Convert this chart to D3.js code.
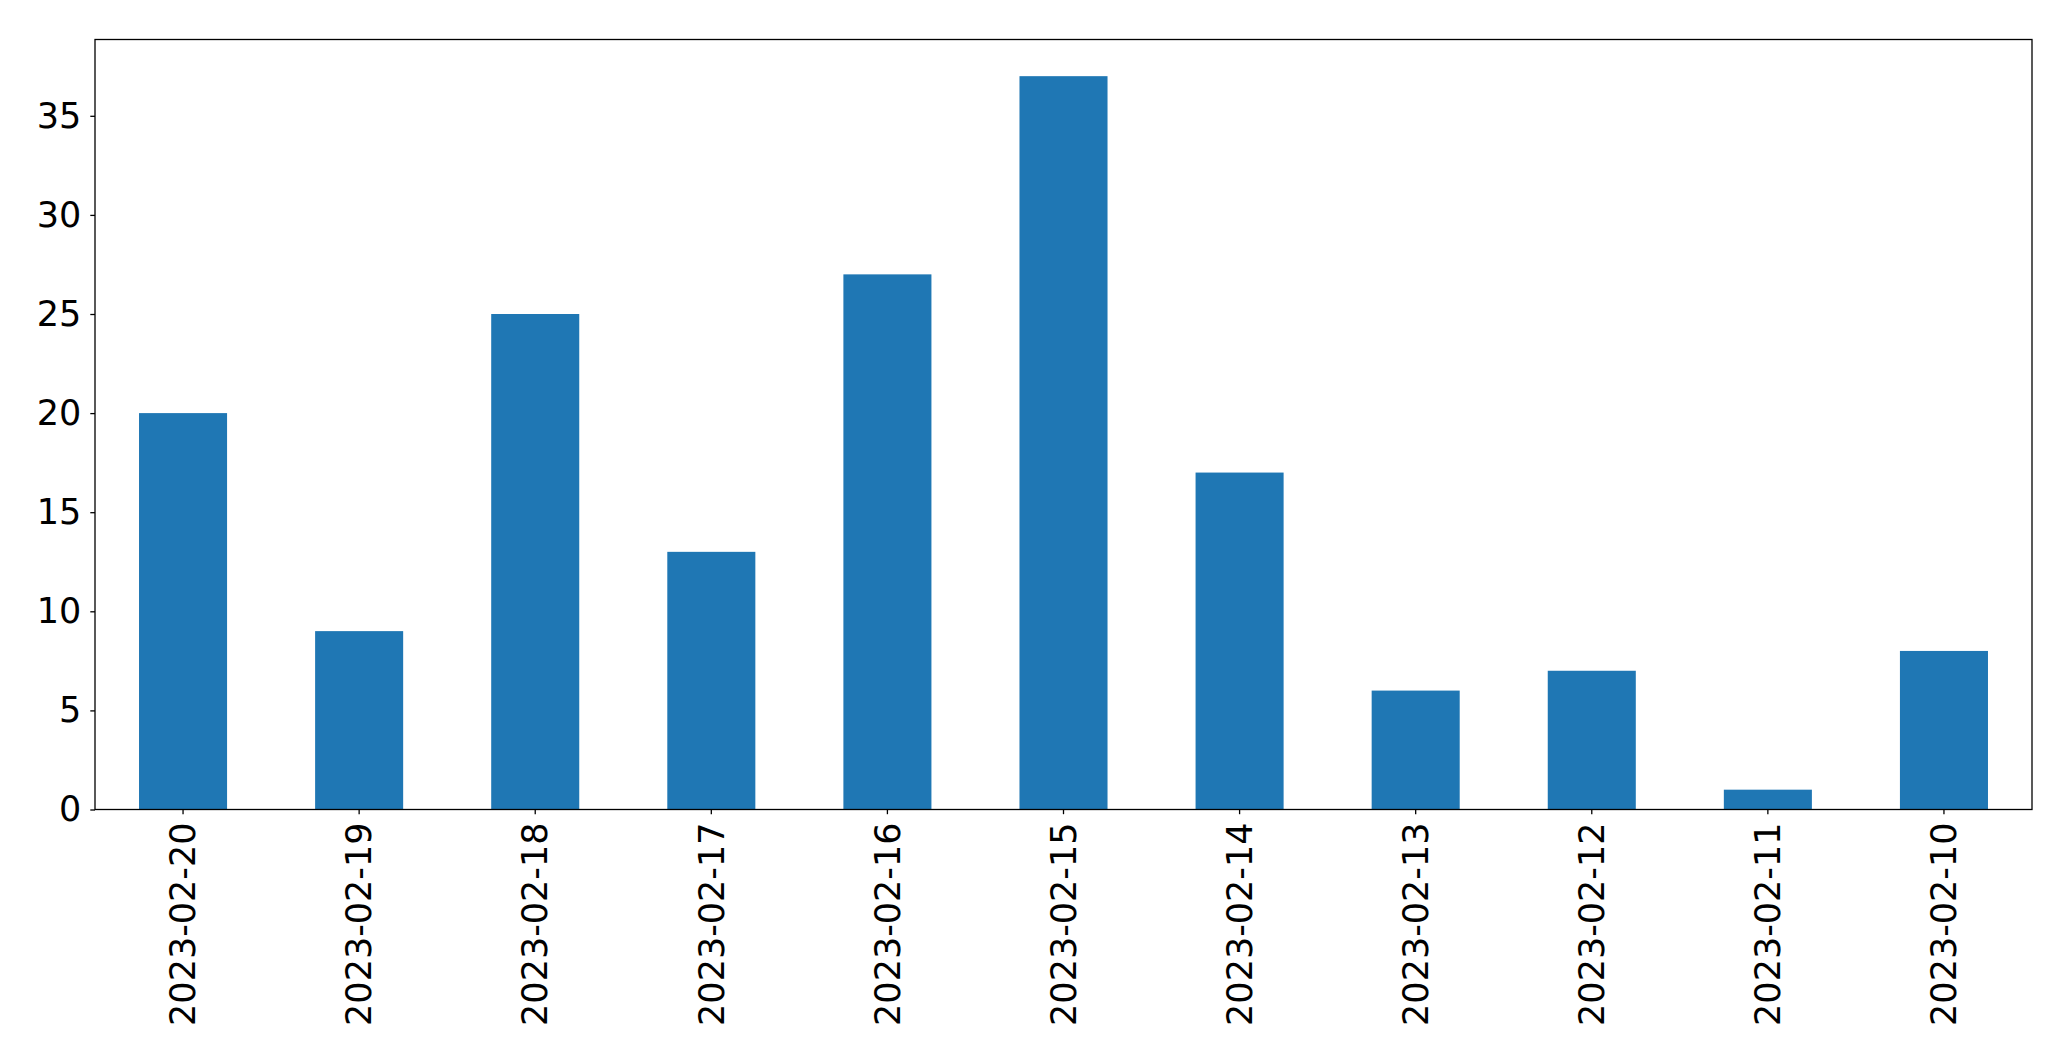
<!DOCTYPE html>
<html><head><meta charset="utf-8">
<script src="https://cdn.jsdelivr.net/npm/d3@7"></script>
<style>body{margin:0;background:#fff}svg{display:block}text{font-family:"DejaVu Sans",sans-serif}</style>
</head><body>
<script>
const categories = ["2023-02-20","2023-02-19","2023-02-18","2023-02-17","2023-02-16","2023-02-15","2023-02-14","2023-02-13","2023-02-12","2023-02-11","2023-02-10"];
const values = [20, 9, 25, 13, 27, 37, 17, 6, 7, 1, 8];
const yTicks = [0, 5, 10, 15, 20, 25, 30, 35];

const W = 2071, H = 1061;
const m = {left: 95, right: 2032, top: 39.5, bottom: 809.5};
const svg = d3.select("body").append("svg").attr("width", W).attr("height", H);

const x = d3.scaleBand().domain(categories).range([m.left, m.right]).paddingInner(0.5).paddingOuter(0.25);
const y = d3.scaleLinear().domain([0, d3.max(values) * 1.05]).range([m.bottom, m.top]);

svg.append("g").selectAll("rect").data(values).join("rect")
  .attr("x", (d, i) => x(categories[i]))
  .attr("width", x.bandwidth())
  .attr("y", d => y(d))
  .attr("height", d => y(0) - y(d))
  .attr("fill", "#1f77b4");

const fs = 35;
const yAxis = svg.append("g").attr("transform", `translate(${m.left},0)`)
  .call(d3.axisLeft(y).tickValues(yTicks).tickSize(4.7).tickPadding(9).tickFormat(d3.format("d")));
yAxis.select(".domain").remove();
yAxis.selectAll("text").attr("font-size", fs).attr("fill", "#000").attr("font-family", "DejaVu Sans");
yAxis.selectAll("line").attr("stroke", "#000").attr("stroke-width", 1.3);

const xAxis = svg.append("g").attr("transform", `translate(0,${m.bottom})`)
  .call(d3.axisBottom(x).tickSize(4.7).tickPadding(0));
xAxis.select(".domain").remove();
xAxis.selectAll("line").attr("stroke", "#000").attr("stroke-width", 1.3);
xAxis.selectAll("text")
  .attr("font-size", fs).attr("fill", "#000").attr("font-family", "DejaVu Sans")
  .attr("transform", "rotate(-90)")
  .attr("text-anchor", "end")
  .attr("x", -13).attr("y", 0).attr("dy", "0.35em");

svg.append("rect").attr("x", m.left).attr("y", m.top)
  .attr("width", m.right - m.left).attr("height", m.bottom - m.top)
  .attr("fill", "none").attr("stroke", "#000").attr("stroke-width", 1.3);
</script>
</body></html>
